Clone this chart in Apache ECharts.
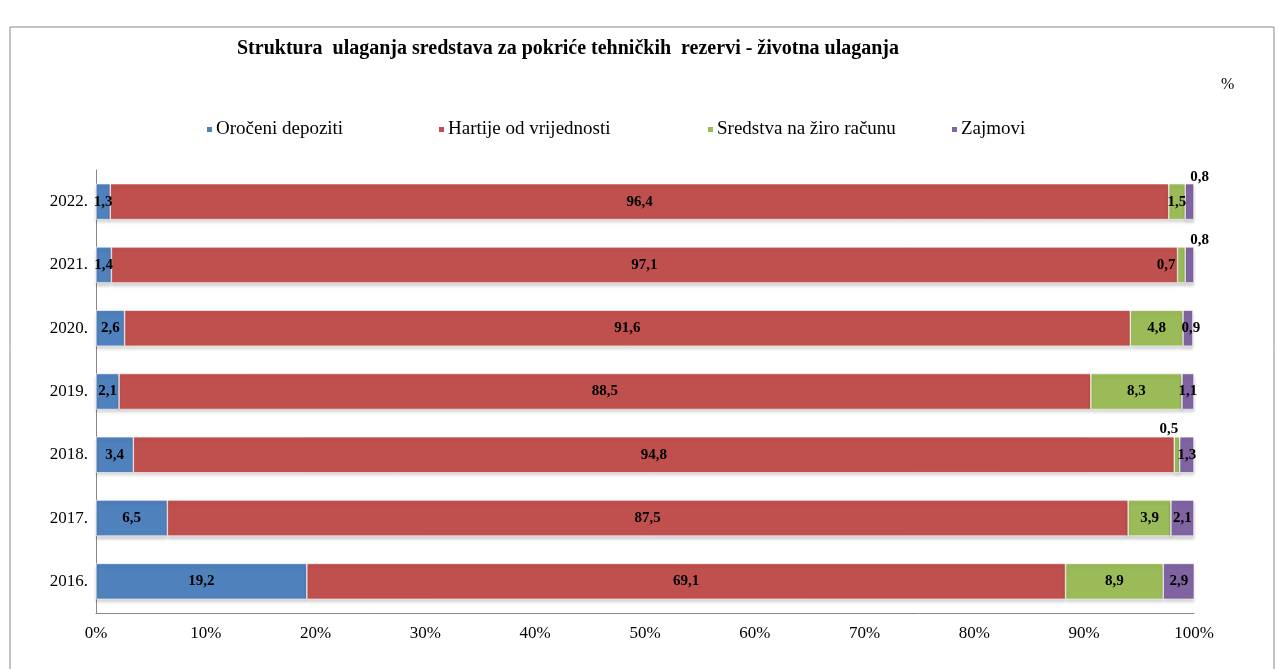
<!DOCTYPE html>
<html><head><meta charset="utf-8">
<script src="https://cdn.jsdelivr.net/npm/echarts@6/dist/echarts.min.js"></script>
<style>html,body{margin:0;padding:0;background:#fff}#c{width:1279px;height:669px}</style>
</head><body><div id="c"></div>
<script>
const years = ['2016.', '2017.', '2018.', '2019.', '2020.', '2021.', '2022.'];
const seriesNames = ['Oročeni depoziti', 'Hartije od vrijednosti', 'Sredstva na žiro računu', 'Zajmovi'];
const orocheniDepoziti = [19.2, 6.5, 3.4, 2.1, 2.6, 1.4, 1.3];
const hartije = [69.1, 87.5, 94.8, 88.5, 91.6, 97.1, 96.4];
const ziroRacun = [8.9, 3.9, 0.5, 8.3, 4.8, 0.7, 1.5];
const zajmovi = [2.9, 2.1, 1.3, 1.1, 0.9, 0.8, 0.8];
const xTicks = ['0%', '10%', '20%', '30%', '40%', '50%', '60%', '70%', '80%', '90%', '100%'];

const colors = ['#4F81BD', '#C0504D', '#9BBB59', '#8064A2'];
const values = [orocheniDepoziti, hartije, ziroRacun, zajmovi];
// label placement overrides (series index -> category index -> label style)
const labelOverrides = {
  2: { 2: { position: 'top', offset: [-8, 5] }, 5: { position: 'left', distance: 2 } },
  3: { 5: { position: 'top', offset: [10, 6] }, 6: { position: 'top', offset: [10, 6] }, 4: { offset: [3, 0] } }
};
const FONT = '"Liberation Serif", "Times New Roman", serif';

const series = values.map((arr, si) => ({
  name: seriesNames[si],
  type: 'bar',
  stack: 'total',
  barWidth: 36,
  itemStyle: { color: colors[si], borderColor: '#fff', borderWidth: 0.6, shadowColor: 'rgba(0,0,0,0.18)', shadowBlur: 3, shadowOffsetY: 3 },
  label: {
    show: true, position: 'inside', color: '#000', fontFamily: FONT, fontWeight: 'bold', fontSize: 15,
    formatter: p => String(p.value).replace('.', ',')
  },
  data: arr.map((v, ci) => {
    const ov = labelOverrides[si] && labelOverrides[si][ci];
    return ov ? { value: v, label: ov } : v;
  })
}));

const legends = seriesNames.map((n, i) => ({
  data: [n], left: [200, 432, 701, 945][i], top: 115, icon: 'rect', itemWidth: 7, itemHeight: 7, itemGap: 0,
  textStyle: { fontFamily: FONT, fontSize: 19, color: '#000', padding: [0, 0, 0, -2] }
}));

const chart = echarts.init(document.getElementById('c'), null, { renderer: 'canvas' });
chart.setOption({
  animation: false,
  backgroundColor: '#fff',
  color: colors,
  title: {
    text: 'Struktura  ulaganja sredstava za pokriće tehničkih  rezervi - životna ulaganja',
    left: 232, top: 34,
    textStyle: { fontFamily: FONT, fontSize: 20, fontWeight: 'bold', color: '#000' }
  },
  graphic: [
    { type: 'rect', shape: { x: 10, y: 27, width: 1264, height: 660 }, style: { fill: 'none', stroke: '#888', lineWidth: 1 } },
    { type: 'text', left: 1221, top: 77, style: { text: '%', font: '16px ' + FONT, fill: '#000' } }
  ],
  legend: legends,
  grid: { left: 96, right: 85, top: 170, bottom: 56, containLabel: false },
  xAxis: {
    type: 'value', min: 0, max: 100, interval: 10,
    axisLine: { show: true, lineStyle: { color: '#888' } },
    axisTick: { show: false },
    splitLine: { show: false },
    axisLabel: { fontFamily: FONT, fontSize: 17, color: '#000', margin: 12, formatter: (v) => xTicks[Math.round(v / 10)] }
  },
  yAxis: {
    type: 'category', data: years,
    axisLine: { show: true, lineStyle: { color: '#888' } },
    axisTick: { show: false },
    axisLabel: { fontFamily: FONT, fontSize: 17, color: '#000', margin: 8 }
  },
  series: series
});
</script></body></html>
